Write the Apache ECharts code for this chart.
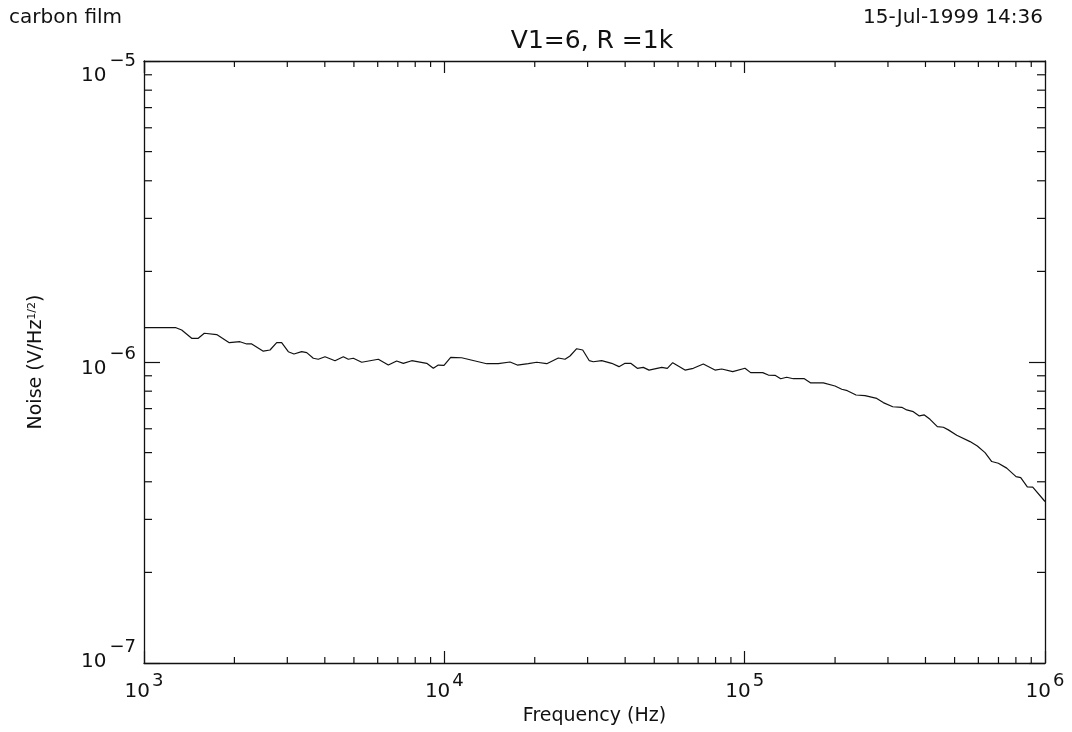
<!DOCTYPE html>
<html>
<head>
<meta charset="utf-8">
<script src="https://cdn.jsdelivr.net/npm/echarts@6/dist/echarts.min.js"></script>
<style>
html,body{margin:0;padding:0;background:#fff;}
#chart{width:1072px;height:732px;}
</style>
</head>
<body>
<div id="chart"></div>
<script>
// Frequency (Hz)
const freqHz = [1000,1278,1335,1441,1516,1588,1746,1923,2087,2198,2284,2496,2628,2766,2873,3023,3158,3350,3482,3662,3805,4006,4325,4609,4789,4977,5308,6029,6509,6940,7301,7787,8737,9190,9548,9975,10500,11420,13840,15120,16550,17500,19040,20310,21930,23960,25220,26210,27590,28890,30390,31330,33420,36080,38150,39960,41740,43900,45970,48030,52950,55260,57600,63290,67450,72830,79660,83860,91260,100250,104700,114800,119900,126200,131800,138000,145200,158000,166000,182800,199900,210500,219700,234900,251600,275300,289400,311200,333400,346400,364300,381500,396500,414200,438100,458700,476600,508300,562800,595200,631400,664700,699200,745600,800900,830200,873200,910200,1000000];
// Noise in micro-volts per root hertz
const noiseUV = [1.300,1.300,1.277,1.199,1.199,1.246,1.233,1.159,1.168,1.148,1.148,1.086,1.096,1.159,1.159,1.082,1.063,1.082,1.074,1.029,1.021,1.041,1.010,1.041,1.021,1.029,0.998,1.021,0.977,1.008,0.990,1.010,0.990,0.953,0.977,0.975,1.036,1.033,0.987,0.987,1.000,0.977,0.987,0.998,0.987,1.031,1.021,1.047,1.107,1.096,1.010,1.002,1.010,0.990,0.965,0.990,0.990,0.953,0.960,0.940,0.960,0.953,0.995,0.940,0.953,0.985,0.940,0.948,0.929,0.953,0.922,0.922,0.905,0.903,0.880,0.890,0.880,0.880,0.852,0.852,0.832,0.812,0.803,0.777,0.773,0.757,0.733,0.710,0.707,0.693,0.684,0.662,0.667,0.645,0.610,0.607,0.595,0.571,0.544,0.526,0.500,0.467,0.461,0.444,0.416,0.413,0.385,0.384,0.344];

const xMin = 1e3, xMax = 1e6, yMin = 1e-7, yMax = 1e-5;
const xTickExp = {3:'3', 4:'4', 5:'5', 6:'6'};
const yTickExp = {'-7':'\u22127', '-6':'\u22126', '-5':'\u22125'};
const xDecades = [1e3, 1e4, 1e5];
const yDecades = [1e-7, 1e-6];
const minorMult = [2,3,4,5,6,7,8,9];

const titleText = 'V1=6, R =1k';
const leftNote = 'carbon film';
const rightNote = '15-Jul-1999 14:36';
const xName = 'Frequency (Hz)';
const yName = 'Noise (V/Hz{s|1/2})';

const FONT = 'DejaVu Sans';
const INK = '#111';

const lineData = freqHz.map((f, i) => [f, noiseUV[i] * 1e-6]);
const xMinor = [], yMinor = [];
xDecades.forEach(d => minorMult.forEach(m => xMinor.push([d * m, yMin])));
yDecades.forEach(d => minorMult.forEach(m => yMinor.push([xMin, d * m])));

function minorRender(kind, len) {
  return function (params, api) {
    const v = api.value(kind === 'x' ? 0 : 1);
    let a, b, c, d;
    if (kind === 'x') {
      a = api.coord([v, yMin]); b = [a[0], a[1] - len];
      c = api.coord([v, yMax]); d = [c[0], c[1] + len];
    } else {
      a = api.coord([xMin, v]); b = [a[0] + len, a[1]];
      c = api.coord([xMax, v]); d = [c[0] - len, c[1]];
    }
    return {
      type: 'group',
      children: [
        {type: 'line', shape: {x1: a[0], y1: a[1], x2: b[0], y2: b[1]}, style: {stroke: INK, lineWidth: 1.2}},
        {type: 'line', shape: {x1: c[0], y1: c[1], x2: d[0], y2: d[1]}, style: {stroke: INK, lineWidth: 1.2}}
      ]
    };
  };
}

const richX = {
  b: {fontFamily: FONT, fontSize: 20, color: INK, lineHeight: 30, verticalAlign: 'bottom'},
  e: {fontFamily: FONT, fontSize: 18, color: INK, lineHeight: 10, verticalAlign: 'top', padding: [0, 0, 0, 2]}
};
const richY = {
  b: {fontFamily: FONT, fontSize: 20, color: INK, lineHeight: 34, verticalAlign: 'bottom'},
  e: {fontFamily: FONT, fontSize: 18, color: INK, lineHeight: 10, verticalAlign: 'top', padding: [0, 0, 0, 3]},
  g: {fontSize: 10, lineHeight: 16}
};

function yLabel(v) {
  const p = Math.round(Math.log10(v));
  const core = '{b|10}{e|' + yTickExp[String(p)] + '}';
  if (p === -5) return '{g| }\n' + core;
  if (p === -7) return core + '\n{g| }';
  return core;
}

const chart = echarts.init(document.getElementById('chart'), null, {renderer: 'canvas'});
chart.setOption({
  animation: false,
  backgroundColor: '#fff',
  grid: {left: 144, right: 27, top: 61, bottom: 69, outerBoundsMode: 'none'},
  graphic: [
    {type: 'text', left: 9, top: 8, style: {text: leftNote, fontFamily: FONT, fontSize: 20, fill: INK}},
    {type: 'text', right: 29, top: 8, style: {text: rightNote, fontFamily: FONT, fontSize: 20, fill: INK}},
    {type: 'text', x: 592, y: 41, style: {text: titleText, fontFamily: FONT, fontSize: 25, fill: INK, textAlign: 'center', textVerticalAlign: 'middle'}}
  ],
  xAxis: [
    {
      type: 'log', logBase: 10, min: xMin, max: xMax, position: 'bottom',
      name: xName, nameLocation: 'middle', nameGap: 44,
      nameTextStyle: {fontFamily: FONT, fontSize: 19, color: INK, verticalAlign: 'top'},
      axisLine: {show: true, lineStyle: {color: INK, width: 1.3}},
      axisTick: {show: true, inside: true, length: 12, lineStyle: {color: INK, width: 1.2}},
      splitLine: {show: false},
      axisLabel: {
        margin: 9,
        formatter: v => '{b|10}{e|' + xTickExp[Math.round(Math.log10(v))] + '}',
        rich: richX
      }
    },
    {
      type: 'log', logBase: 10, min: xMin, max: xMax, position: 'top',
      axisLine: {show: true, lineStyle: {color: INK, width: 1.3}},
      axisTick: {show: true, inside: true, length: 12, lineStyle: {color: INK, width: 1.2}},
      axisLabel: {show: false}, splitLine: {show: false}
    }
  ],
  yAxis: [
    {
      type: 'log', logBase: 10, min: yMin, max: yMax, position: 'left',
      name: yName, nameLocation: 'middle', nameGap: 98, nameRotate: 90,
      nameTextStyle: {fontFamily: FONT, fontSize: 19, color: INK,
        rich: {s: {fontFamily: FONT, fontSize: 11, color: INK, verticalAlign: 'top', lineHeight: 10}}},
      axisLine: {show: true, lineStyle: {color: INK, width: 1.3}},
      axisTick: {show: true, inside: true, length: 16, lineStyle: {color: INK, width: 1.2}},
      splitLine: {show: false},
      axisLabel: {margin: 8, formatter: yLabel, rich: richY}
    },
    {
      type: 'log', logBase: 10, min: yMin, max: yMax, position: 'right',
      axisLine: {show: true, lineStyle: {color: INK, width: 1.3}},
      axisTick: {show: true, inside: true, length: 16, lineStyle: {color: INK, width: 1.2}},
      axisLabel: {show: false}, splitLine: {show: false}
    }
  ],
  series: [
    {
      type: 'line', xAxisIndex: 0, yAxisIndex: 0, data: lineData,
      showSymbol: false, symbol: 'none', smooth: false,
      lineStyle: {color: INK, width: 1.2}, z: 5
    },
    {type: 'custom', xAxisIndex: 0, yAxisIndex: 0, data: xMinor, renderItem: minorRender('x', 6), silent: true, clip: false, z: 4},
    {type: 'custom', xAxisIndex: 0, yAxisIndex: 0, data: yMinor, renderItem: minorRender('y', 8), silent: true, clip: false, z: 4}
  ]
});
</script>
</body>
</html>
